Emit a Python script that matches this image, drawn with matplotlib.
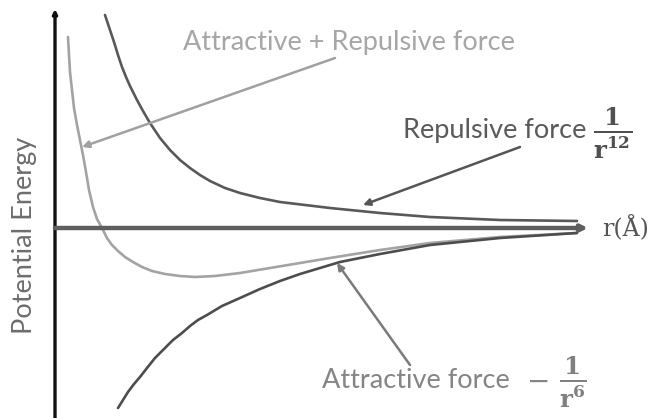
import matplotlib
matplotlib.use('Agg')
import matplotlib.pyplot as plt

# curves (arbitrary units: r from the y axis, energy from the r axis)
sum_r = [13, 14, 15, 17, 19, 22, 25, 28, 31, 34, 38, 42, 47, 52, 57, 63, 70, 78, 87, 97,
         110, 125, 140, 160, 185, 215, 245, 275, 325, 375, 445, 522]
sum_e = [191, 173, 156, 138, 120, 103, 88, 73, 56, 38, 21, 9, 0, -10, -17, -23, -29, -34,
         -39, -43, -46, -48, -49, -48, -45, -40, -35, -30, -22, -15, -9, -5]

rep_r = [50, 55, 59, 63, 67, 71, 75, 82, 88, 95, 105, 115, 125, 135, 145, 155, 170, 185,
         205, 225, 250, 275, 325, 375, 445, 522]
rep_e = [213, 198, 186, 173, 161, 151, 142, 128, 117, 105, 90, 78, 68, 60, 53, 47, 40, 35,
         30, 26, 23, 20, 15, 11, 8, 7]

att_r = [63, 68, 73, 79, 85, 92, 100, 109, 118, 127, 135, 143, 152, 167, 185, 205, 225,
         245, 265, 285, 325, 375, 445, 522]
att_e = [-180, -172, -164, -156, -149, -140, -130, -121, -112, -105, -98, -92, -87, -78,
         -70, -61, -53, -46, -40, -34, -26, -17, -10, -5]

label_font = ['Lato', 'DejaVu Sans']
plt.rcParams['mathtext.fontset'] = 'dejavuserif'

fig = plt.figure(figsize=(6.51, 4.18), dpi=100)
ax = fig.add_axes([0, 0, 1, 1])
ax.set_xlim(-55, 596)
ax.set_ylim(-190, 228)
ax.axis('off')

# axes
ax.annotate('', xy=(0, 219), xytext=(0, -190),
            arrowprops=dict(arrowstyle='-|>', lw=2.4, color='#111111', mutation_scale=6,
                            shrinkA=0, shrinkB=0))
ax.annotate('', xy=(533, 0), xytext=(0, 0),
            arrowprops=dict(arrowstyle='-|>', lw=3.2, color='#5e5e5e', mutation_scale=9,
                            shrinkA=0, shrinkB=0))
ax.plot([2, 524], [0, 0], color='#8e8e8e', lw=0.9)

# curves
ax.plot(rep_r, rep_e, color='#595959', lw=1.9, solid_capstyle='round')
ax.plot(sum_r, sum_e, color='#a3a3a3', lw=1.9, solid_capstyle='round')
ax.plot(att_r, att_e, color='#4d4d4d', lw=1.9, solid_capstyle='round')

# pointer arrows
ax.annotate('', xy=(27, 81), xytext=(280, 170),
            arrowprops=dict(arrowstyle='-|>', lw=1.8, color='#a0a0a0', mutation_scale=10,
                            shrinkA=0, shrinkB=0))
ax.annotate('', xy=(308, 23), xytext=(465, 81),
            arrowprops=dict(arrowstyle='-|>', lw=1.8, color='#555555', mutation_scale=10,
                            shrinkA=0, shrinkB=0))
ax.annotate('', xy=(282, -35), xytext=(355, -137),
            arrowprops=dict(arrowstyle='-|>', lw=1.8, color='#7a7a7a', mutation_scale=10,
                            shrinkA=0, shrinkB=0))

# labels
ax.text(128, 178, 'Attractive + Repulsive force', color='#a6a6a6', fontsize=19.5,
        family=label_font, ha='left', va='baseline')
ax.text(348, 90, 'Repulsive force', color='#5a5a5a', fontsize=19.5,
        family=label_font, ha='left', va='baseline')
ax.text(558, 95, r'$\mathbf{\frac{1}{r^{12}}}$', color='#505050', fontsize=25,
        ha='center', va='center')
ax.text(267, -160, 'Attractive force', color='#858585', fontsize=19.5,
        family=label_font, ha='left', va='baseline')
ax.text(484, -154, '−', color='#858585', fontsize=20, family='DejaVu Sans',
        ha='center', va='center')
ax.text(518, -154, r'$\mathbf{\frac{1}{r^{6}}}$', color='#808080', fontsize=25,
        ha='center', va='center')
ax.text(547, 0, 'r(Å)', color='#555555', fontsize=17, family='DejaVu Serif',
        ha='left', va='center')
ax.text(-30, -7, 'Potential Energy', color='#6d6d6d', fontsize=19.5,
        family=label_font, rotation=90, ha='center', va='center')

fig.savefig('out.png', dpi=100)
plt.close(fig)
